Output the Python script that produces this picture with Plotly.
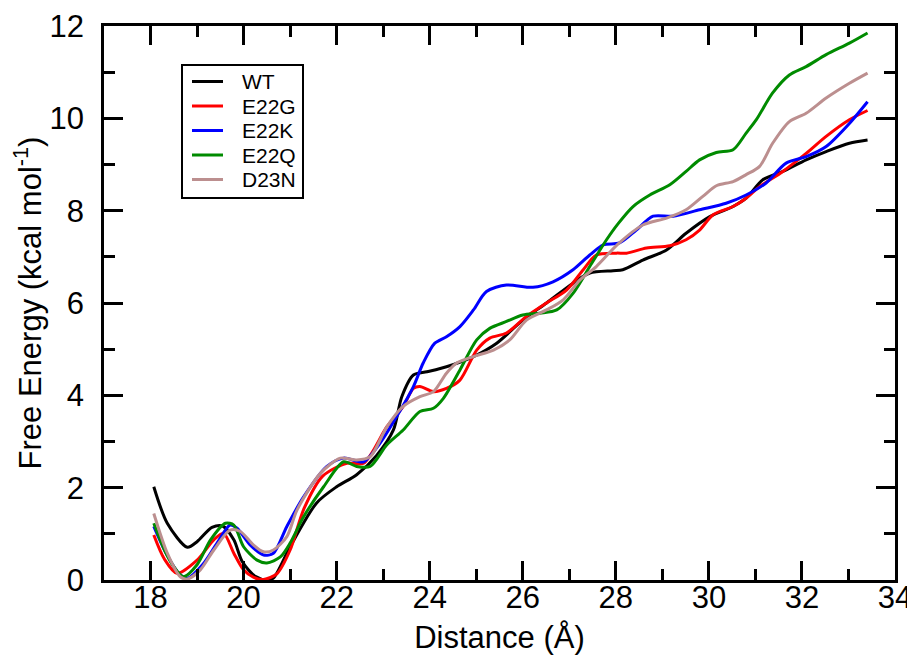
import plotly.graph_objects as go

# ---- data ----
wt_x = [18.07, 18.36, 18.79, 19.0, 19.32, 19.55, 19.79, 19.97, 20.25, 20.5, 20.64, 21.0, 21.57, 22.0, 22.43, 22.86,
        23.22, 23.4, 23.65, 23.94, 24.36, 24.94, 25.44, 26.0, 26.51, 27.08, 27.44, 27.94, 28.15, 28.58, 29.09,
        29.51, 30.02, 30.52, 30.80, 31.16, 31.59, 32.09, 32.52, 33.02, 33.41]
wt_y = [2.02, 1.23, 0.71, 0.83, 1.14, 1.17, 0.87, 0.40, 0.08, 0.0, 0.04, 0.72, 1.67, 2.02, 2.28, 2.70,
        3.25, 3.97, 4.44, 4.51, 4.62, 4.84, 5.13, 5.63, 6.0, 6.43, 6.65, 6.70, 6.72, 6.93, 7.15,
        7.51, 7.87, 8.09, 8.27, 8.67, 8.85, 9.10, 9.28, 9.46, 9.53]

e22g_x = [18.07, 18.3, 18.57, 19.0, 19.36, 19.57, 19.79, 20.0, 20.21, 20.43, 20.72, 21.0, 21.3, 21.7, 22.22, 22.58,
          23.08, 23.43, 23.65, 23.79, 24.08, 24.36, 24.65, 25.01, 25.29, 25.65, 26.08, 26.51, 26.94, 27.30, 27.58,
          28.01, 28.23, 28.66, 29.16, 29.51, 29.80, 30.09, 30.52, 30.80, 31.09, 31.59, 32.09, 32.52, 33.02, 33.41]
e22g_y = [0.975, 0.45, 0.145, 0.43, 0.87, 1.01, 0.58, 0.22, 0.06, 0.01, 0.14, 0.65, 1.55, 2.25, 2.53, 2.53,
          3.32, 3.76, 4.15, 4.19, 4.08, 4.15, 4.33, 4.98, 5.24, 5.35, 5.71, 6.0, 6.28, 6.72, 7.04,
          7.08, 7.08, 7.19, 7.24, 7.37, 7.58, 7.91, 8.09, 8.27, 8.52, 8.85, 9.24, 9.61, 9.97, 10.17]

e22k_x = [18.07, 18.35, 18.64, 18.79, 19.14, 19.43, 19.71, 19.86, 20.14, 20.43, 20.64, 20.93, 21.29, 21.79, 22.15,
          22.58, 22.93, 23.29, 23.65, 23.86, 24.11, 24.36, 24.65, 24.94, 25.22, 25.65, 26.22, 26.65, 27.08, 27.44,
          27.73, 28.08, 28.44, 28.80, 29.23, 29.80, 30.37, 30.80, 31.23, 31.66, 32.09, 32.52, 33.02, 33.41]
e22k_y = [1.16, 0.55, 0.11, 0.04, 0.36, 0.80, 1.19, 1.12, 0.76, 0.54, 0.58, 1.16, 1.80, 2.46, 2.64,
          2.56, 2.96, 3.54, 4.19, 4.70, 5.13, 5.27, 5.49, 5.85, 6.25, 6.39, 6.34, 6.46, 6.72, 7.04,
          7.26, 7.30, 7.58, 7.88, 7.88, 8.02, 8.16, 8.34, 8.60, 9.03, 9.17, 9.39, 9.89, 10.36]

e22q_x = [18.07, 18.3, 18.50, 18.71, 19.0, 19.29, 19.61, 19.79, 20.0, 20.29, 20.50, 20.79, 21.0, 21.29, 21.72, 22.15,
          22.43, 22.72, 23.08, 23.43, 23.79, 24.08, 24.29, 24.65, 25.01, 25.29, 25.65, 26.0, 26.37, 26.73, 27.08,
          27.44, 27.80, 28.05, 28.37, 28.73, 29.16, 29.51, 29.80, 30.16, 30.52, 30.80, 31.02, 31.37, 31.73, 32.09,
          32.52, 33.02, 33.41]
e22q_y = [1.23, 0.65, 0.29, 0.07, 0.33, 0.87, 1.23, 1.19, 0.72, 0.43, 0.37, 0.50, 0.80, 1.37, 2.02, 2.56,
          2.46, 2.46, 2.93, 3.25, 3.65, 3.72, 3.93, 4.55, 5.20, 5.45, 5.60, 5.74, 5.78, 5.85, 6.21,
          6.79, 7.37, 7.72, 8.09, 8.34, 8.56, 8.85, 9.10, 9.26, 9.32, 9.68, 9.97, 10.55, 10.94, 11.12,
          11.38, 11.63, 11.85]

d23n_x = [18.07, 18.36, 18.64, 18.79, 19.07, 19.36, 19.71, 19.93, 20.21, 20.43, 20.64, 20.93, 21.15, 21.65, 22.08,
          22.43, 22.72, 23.08, 23.43, 23.79, 24.08, 24.36, 24.58, 24.94, 25.37, 25.72, 26.08, 26.51, 26.87, 27.23,
          27.58, 28.05, 28.58, 29.09, 29.51, 29.87, 30.16, 30.52, 30.80, 31.09, 31.37, 31.73, 32.09, 32.52, 33.02,
          33.41]
d23n_y = [1.44, 0.58, 0.07, 0.02, 0.22, 0.65, 1.08, 1.05, 0.76, 0.61, 0.65, 0.94, 1.52, 2.31, 2.64,
          2.60, 2.67, 3.32, 3.76, 3.97, 4.08, 4.48, 4.70, 4.84, 4.98, 5.20, 5.63, 5.85, 6.07, 6.50,
          6.79, 7.28, 7.69, 7.84, 8.02, 8.31, 8.54, 8.63, 8.78, 8.96, 9.46, 9.93, 10.11, 10.44, 10.76,
          10.98]

series_names = ["WT", "E22G", "E22K", "E22Q", "D23N"]
series_colors = ["#000000", "#ff0000", "#0000ff", "#008b00", "#bc8f8f"]
series_x = [wt_x, e22g_x, e22k_x, e22q_x, d23n_x]
series_y = [wt_y, e22g_y, e22k_y, e22q_y, d23n_y]

FONT = "Liberation Sans, Arial, sans-serif"

fig = go.Figure()
for name, xs, ys, col in zip(series_names, series_x, series_y, series_colors):
    fig.add_trace(go.Scatter(x=xs, y=ys, mode="lines", name=name, showlegend=False,
                             line=dict(color=col, width=3, shape="spline", smoothing=0.8)))

# ---- legend drawn in paper coordinates (plot area: x 104..895 px, y 26..580 px) ----
PX0, PX1, PY0, PY1 = 104.0, 895.0, 580.0, 26.0
def xp(px):
    return (px - PX0) / (PX1 - PX0)
def yp(py):
    return (PY0 - py) / (PY0 - PY1)

shapes = [dict(type="rect", xref="paper", yref="paper",
               x0=xp(182), x1=xp(303), y0=yp(198), y1=yp(65),
               line=dict(color="black", width=2), fillcolor="white", layer="above")]
annotations = []
row0, row_step = 81.5, 24.5
for i, (name, col) in enumerate(zip(series_names, series_colors)):
    ry = row0 + i * row_step
    shapes.append(dict(type="line", xref="paper", yref="paper",
                       x0=xp(192), x1=xp(223), y0=yp(ry), y1=yp(ry),
                       line=dict(color=col, width=3), layer="above"))
    annotations.append(dict(xref="paper", yref="paper", x=xp(240), y=yp(ry),
                            xanchor="left", yanchor="middle", showarrow=False, text=name,
                            font=dict(family=FONT, size=21, color="black")))

axis_common = dict(
    showline=True, linecolor="black", linewidth=2.5, mirror="ticks",
    ticks="inside", ticklen=19, tickwidth=2.5, tickcolor="black",
    showgrid=False, zeroline=False, automargin=False,
    tickfont=dict(family=FONT, size=31, color="black"),
)

fig.update_xaxes(range=[17, 34], dtick=2, tick0=0, ticklabelstandoff=-12,
                 minor=dict(dtick=1, ticks="inside", ticklen=11, tickwidth=2.5, tickcolor="black", showgrid=False),
                 title=dict(text="Distance (Å)", font=dict(family=FONT, size=31, color="black"), standoff=13),
                 **axis_common)
fig.update_yaxes(range=[0, 12], dtick=2, tick0=0, ticklabelstandoff=11,
                 minor=dict(dtick=1, ticks="inside", ticklen=11, tickwidth=2.5, tickcolor="black", showgrid=False),
                 title=dict(text="Free Energy (kcal mol<sup>-1</sup>)", font=dict(family=FONT, size=31, color="black"),
                            standoff=6),
                 **axis_common)

# page body has an 8px margin: shrink figure by 8px so the plot lands at the reference position
fig.update_layout(
    width=907, height=650,
    margin=dict(l=96, r=20, t=18, b=78),
    paper_bgcolor="white", plot_bgcolor="white",
    showlegend=False,
    shapes=shapes, annotations=annotations,
)

fig.write_html("out.html")
